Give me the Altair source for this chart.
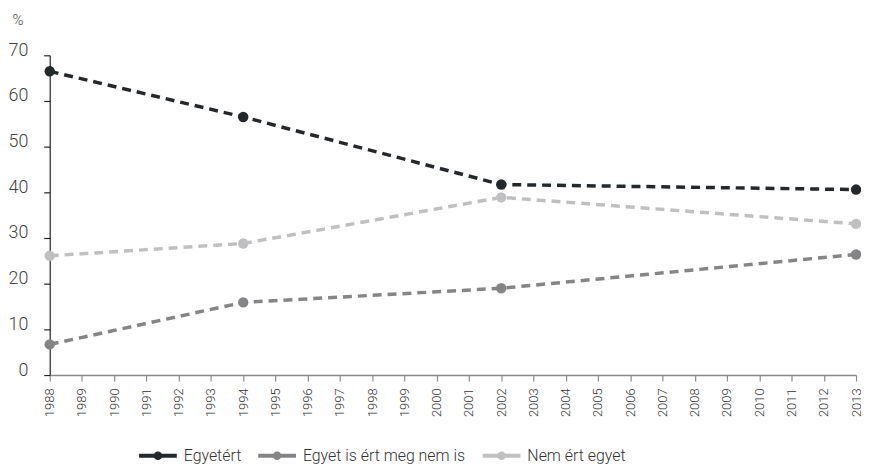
import altair as alt
import pandas as pd

years = [1988, 1994, 2002, 2013]
series_names = ["Egyetért", "Egyet is ért meg nem is", "Nem ért egyet"]
egyetert = [66.5, 56.5, 41.7, 40.6]
egyet_is = [6.7, 15.9, 19.0, 26.4]
nem_ert = [26.1, 28.8, 38.9, 33.1]
tick_years = list(range(1988, 2014))
y_ticks = [0, 10, 20, 30, 40, 50, 60, 70]

rows = []
for name, vals in zip(series_names, [egyetert, egyet_is, nem_ert]):
    for yr, v in zip(years, vals):
        rows.append({"ev": yr, "ertek": v, "sorozat": name})
df = pd.DataFrame(rows)

FONT = "Roboto"
colors = ["#25282b", "#858588", "#c0c0c2"]

sym = "M-1,0H1M-0.12,0A0.12,0.12,0,1,1,0.12,0A0.12,0.12,0,1,1,-0.12,0Z"

x = alt.X("ev:Q", scale=alt.Scale(domain=[1988, 2013], nice=False, zero=False),
          axis=alt.Axis(values=tick_years, format="d", labelAngle=270, labelAlign="right",
                        labelBaseline="middle", title=None, grid=False,
                        domainColor="#8a8a8a", domainWidth=1.5, tickColor="#8a8a8a",
                        tickWidth=1.2, tickSize=6, labelPadding=7, labelFontSize=13,
                        labelFontWeight=300, labelColor="#333333", labelFont=FONT,
                        labelFlush=False, labelOverlap=False))
y = alt.Y("ertek:Q", scale=alt.Scale(domain=[0, 70], nice=False),
          axis=alt.Axis(values=y_ticks, title="%", titleAngle=0, titleAlign="left",
                        titleBaseline="middle", titleX=-38, titleY=-36, titleFontSize=15,
                        titleFontWeight=300, titleColor="#444444", titleFont=FONT,
                        grid=False, domainColor="#222222", domainWidth=1.2,
                        tickColor="#222222", tickSize=6, tickWidth=1.2, labelPadding=16,
                        labelFontSize=18, labelFontWeight=300, labelColor="#444444",
                        labelFont=FONT, labelBaseline="alphabetic", labelFlush=False))

color = alt.Color("sorozat:N", scale=alt.Scale(domain=series_names, range=colors),
                  legend=alt.Legend(title=None, orient="none", direction="horizontal",
                                    legendX=88, legendY=382, symbolType=sym,
                                    symbolSize=1444, symbolStrokeWidth=4,
                                    columnPadding=9, labelFontSize=16, labelFontWeight=300,
                                    labelFont=FONT, labelColor="#333333",
                                    labelLimit=300, labelOffset=5))

lines = alt.Chart(df).mark_line(strokeDash=[9, 6], strokeWidth=3.5).encode(
    x=x, y=y, color=color, order="ev:Q")
points = alt.Chart(df).mark_point(filled=True, size=110, opacity=1).encode(
    x=x, y=y, color=color)

chart = alt.layer(lines, points).properties(
    width=812, height=322,
    padding={"left": 42, "top": 46, "right": 5, "bottom": 92},
    autosize=alt.AutoSizeParams(type="none"),
).configure(font=FONT).configure_view(strokeWidth=0, stroke="transparent")

chart.save("out.html", embed_options={"renderer": "svg", "actions": False})
